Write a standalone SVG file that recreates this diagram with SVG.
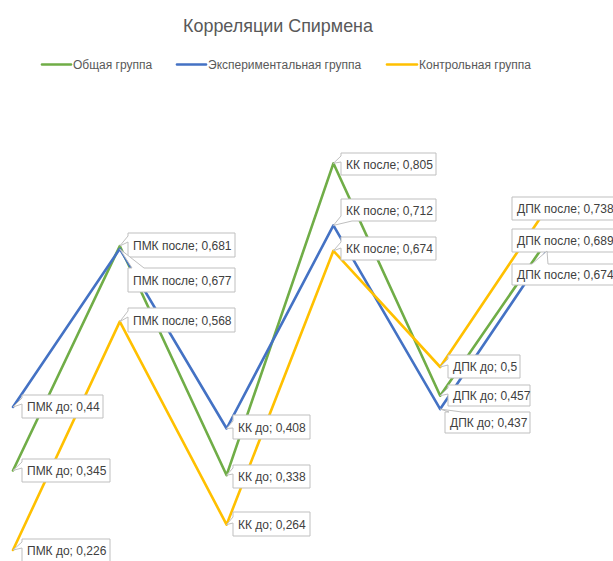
<svg xmlns="http://www.w3.org/2000/svg" width="613" height="561" viewBox="0 0 613 561">
<style>
text{font-family:"Liberation Sans",Arial,sans-serif;}
.title{font-size:19px;fill:#595959;}
.leg{font-size:12px;fill:#595959;}
.lab{font-size:12px;fill:#404040;}
.ser{fill:none;stroke-width:2.6;stroke-linejoin:round;stroke-linecap:round;}
.g{stroke:#70ad47;}
.b{stroke:#4472c4;}
.y{stroke:#ffc000;}
.box{fill:#ffffff;stroke:#bfbfbf;stroke-width:1;}
</style>
<rect x="0" y="0" width="613" height="561" fill="#ffffff"/>
<text class="title" x="183" y="31.5" textLength="190" lengthAdjust="spacingAndGlyphs">Корреляции Спирмена</text>
<g id="legend">
<line x1="42" y1="64.5" x2="71" y2="64.5" class="ser g" stroke-width="3"/>
<text class="leg" x="73" y="68.5">Общая группа</text>
<line x1="177" y1="64.5" x2="206" y2="64.5" class="ser b" stroke-width="3"/>
<text class="leg" x="208" y="68.5">Экспериментальная группа</text>
<line x1="387" y1="64.5" x2="417" y2="64.5" class="ser y" stroke-width="3"/>
<text class="leg" x="419" y="68.5">Контрольная группа</text>
</g>
<g id="connectors">
<polyline class="ser g" points="13,470.5 119.8,246 226.6,475.2 333.4,163.3 440.2,395.7 547,240.8"/>
<polyline class="ser b" points="13,407 119.8,248.8 226.6,428.5 333.4,225.4 440.2,409.1 547,250.8"/>
<polyline class="ser y" points="13,550 119.8,321.6 226.6,524.6 333.4,250.8 440.2,367 547,208"/>
</g>
<g id="label-pmk-do-g"><path class="box" d="M22,459 H110 V482 H22 V468 L13,470.5 L22,462 Z"/><text class="lab" x="27" y="475">ПМК до; 0,345</text></g>
<g id="label-pmk-posle-g"><path class="box" d="M128,233 H235 V257 H128 V242 L119.8,246 L128,236 Z"/><text class="lab" x="133" y="249.5">ПМК после; 0,681</text></g>
<g id="label-kk-do-g"><path class="box" d="M233,465 H310 V488 H233 V474 L226.6,475.2 L233,468 Z"/><text class="lab" x="238" y="481">КК до; 0,338</text></g>
<g id="label-kk-posle-g"><path class="box" d="M341,153 H436 V175 H341 V162 L333.4,163.3 L341,156 Z"/><text class="lab" x="346" y="168.5">КК после; 0,805</text></g>
<g id="label-dpk-do-g"><path class="box" d="M448,385 H530 V406 H448 V394 L440.2,395.7 L448,388 Z"/><text class="lab" x="453" y="400">ДПК до; 0,457</text></g>
<g id="label-dpk-posle-g"><path class="box" d="M512,229 H622 V252 H512 Z"/><text class="lab" x="517" y="245">ДПК после; 0,689</text></g>
<g id="label-pmk-do-b"><path class="box" d="M22,395 H103 V418 H22 V404 L13,407 L22,398 Z"/><text class="lab" x="27" y="411">ПМК до; 0,44</text></g>
<g id="label-pmk-posle-b"><path class="box" d="M128,268 H132 L119.8,249 L144,268 H235 V292 H128 Z"/><text class="lab" x="133" y="284.5">ПМК после; 0,677</text></g>
<g id="label-kk-do-b"><path class="box" d="M233,415 H310 V439 H233 V428 L226.6,428.5 L233,421 Z"/><text class="lab" x="238" y="431.5">КК до; 0,408</text></g>
<g id="label-kk-posle-b"><path class="box" d="M341,199 H436 V221 H352 L333.4,225.4 L341,216 Z"/><text class="lab" x="346" y="214.5">КК после; 0,712</text></g>
<g id="label-dpk-do-b"><path class="box" d="M445,412 H449 L440.2,409.1 L462,412 H530 V433 H445 Z"/><text class="lab" x="450" y="427">ДПК до; 0,437</text></g>
<g id="label-dpk-posle-b"><path class="box" d="M512,264 H532 L547,251 L548,264 H622 V285 H512 Z"/><text class="lab" x="517" y="279">ДПК после; 0,674</text></g>
<g id="label-pmk-do-y"><path class="box" d="M22,539 H110 V562 H22 V548 L13,550 L22,542 Z"/><text class="lab" x="27" y="555">ПМК до; 0,226</text></g>
<g id="label-pmk-posle-y"><path class="box" d="M128,308 H235 V332 H128 V317 L119.8,321.6 L128,311 Z"/><text class="lab" x="133" y="324.5">ПМК после; 0,568</text></g>
<g id="label-kk-do-y"><path class="box" d="M233,512 H310 V536 H233 V523 L226.6,524.6 L233,517 Z"/><text class="lab" x="238" y="528.5">КК до; 0,264</text></g>
<g id="label-kk-posle-y"><path class="box" d="M341,237 H436 V260 H341 V248 L333.4,250.8 L341,242 Z"/><text class="lab" x="346" y="253">КК после; 0,674</text></g>
<g id="label-dpk-do-y"><path class="box" d="M448,355 H520 V378 H448 V365 L440.2,367 L448,359 Z"/><text class="lab" x="453" y="371">ДПК до; 0,5</text></g>
<g id="label-dpk-posle-y"><path class="box" d="M512,197 H622 V220 H512 Z"/><text class="lab" x="517" y="213">ДПК после; 0,738</text></g>
</svg>
